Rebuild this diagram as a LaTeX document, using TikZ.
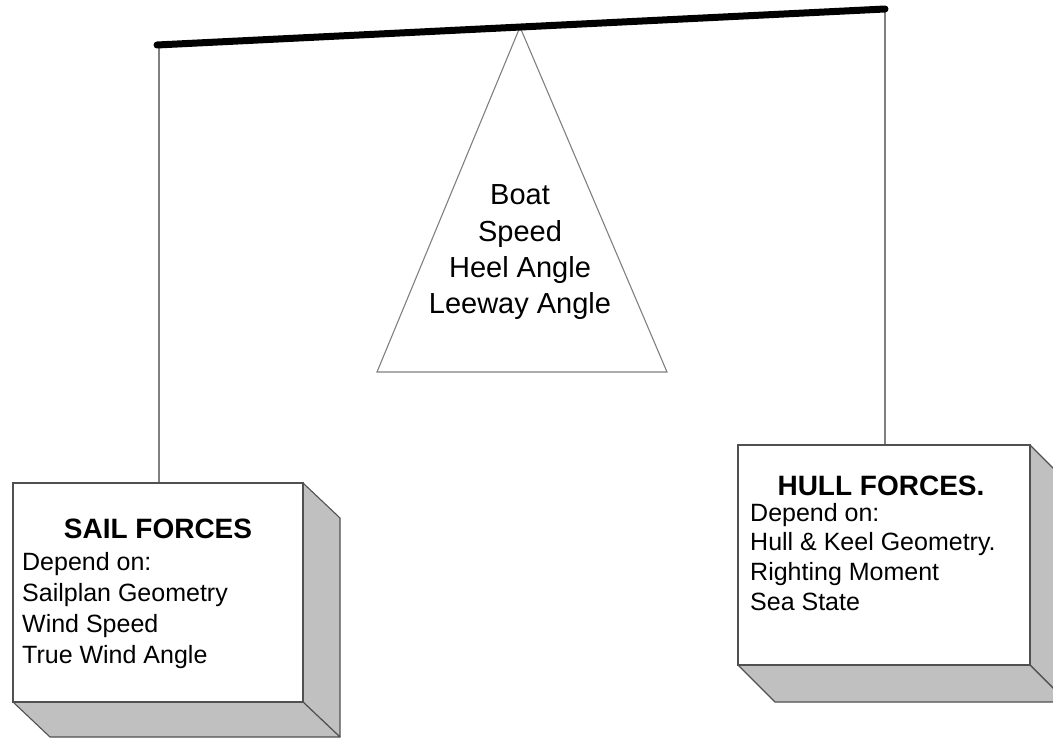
\documentclass[tikz,border=0pt]{standalone}
\usepackage{fontspec}
\setmainfont{Liberation Sans}
\definecolor{boxgrey}{HTML}{C0C0C0}
\definecolor{edgegrey}{HTML}{505050}
\definecolor{linegrey}{HTML}{808080}
\begin{document}
\begin{tikzpicture}[x=1pt,y=-1pt,
  beam/.style={line width=7pt,line cap=round,black},
  hanger/.style={draw=linegrey,line width=1.2pt},
  tri/.style={draw=linegrey,line width=1.1pt,fill=white},
  side/.style={draw=edgegrey,line width=1.1pt,fill=boxgrey,line join=round},
  front/.style={draw=edgegrey,line width=1.1pt,fill=white},
  tritext/.style={anchor=base,inner sep=0pt,font=\fontsize{29}{35}\selectfont},
  titletext/.style={anchor=base,inner sep=0pt,font=\fontsize{28}{33}\selectfont\bfseries},
  bodytext/.style={anchor=base west,inner sep=0pt,font=\fontsize{25}{30}\selectfont}]
\useasboundingbox (0,0) rectangle (1053,738);
% beam ends and pivot
\coordinate (bl) at (157,45);
\coordinate (br) at (885,9);
\coordinate (apex) at (520,27);
\coordinate (tl) at (377,372);
\coordinate (tr) at (667,372);
% hangers
\coordinate (lh) at (159,45);
\coordinate (lb) at (159,483);
\coordinate (rb) at (885,445);
\draw[hanger] (lh) -- (lb);
\draw[hanger] (br) -- (rb);
% triangle
\draw[tri] (apex) -- (tr) -- (tl) -- cycle;
% beam
\draw[beam] (bl) -- (br);
% triangle text
\node[tritext] (t1) at (520,205) {Boat};
\node[tritext] (t2) at (520,242) {Speed};
\node[tritext] (t3) at (520,278) {Heel Angle};
\node[tritext] (t4) at (520,314) {Leeway Angle};
% left box
\draw[side] (303,483) -- (340,518) -- (340,737) -- (303,702) -- cycle;
\draw[side] (13,702) -- (303,702) -- (340,737) -- (50,737) -- cycle;
\draw[front] (13,483) rectangle (303,702);
\node[titletext] (sail) at (158,538) {SAIL FORCES};
\node[bodytext] (s1) at (22,570) {Depend on:};
\node[bodytext] (s2) at (22,601) {Sailplan Geometry};
\node[bodytext] (s3) at (22,632) {Wind Speed};
\node[bodytext] (s4) at (22,663) {True Wind Angle};
% right box
\draw[side] (1030,445) -- (1067,482) -- (1067,702) -- (1030,665) -- cycle;
\draw[side] (738,665) -- (1030,665) -- (1067,702) -- (775,702) -- cycle;
\draw[front] (738,445) rectangle (1030,665);
\node[titletext] (hull) at (881,495) {HULL FORCES.};
\node[bodytext] (h1) at (750,521) {Depend on:};
\node[bodytext] (h2) at (750,550) {Hull \& Keel Geometry.};
\node[bodytext] (h3) at (750,580) {Righting Moment};
\node[bodytext] (h4) at (750,610) {Sea State};
\end{tikzpicture}
\end{document}
